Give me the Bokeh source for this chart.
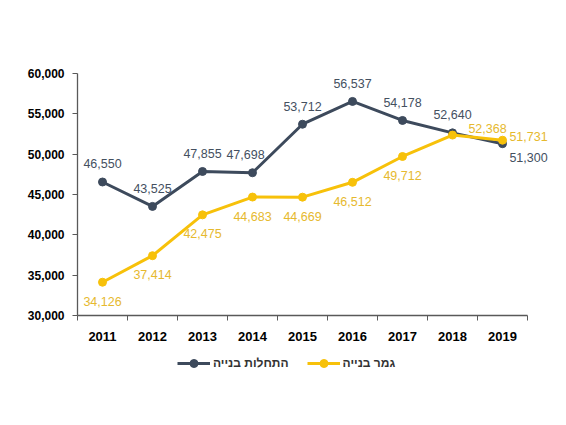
from bokeh.models import ColumnDataSource, FixedTicker, NumeralTickFormatter, Legend, LegendItem, Range1d
from bokeh.plotting import figure
from bokeh.layouts import column
from bokeh.embed import file_html
from bokeh.resources import INLINE
from bokeh.core.properties import value

years = ["2011", "2012", "2013", "2014", "2015", "2016", "2017", "2018", "2019"]
starts = [46550, 43525, 47855, 47698, 53712, 56537, 54178, 52640, 51300]
finished = [34126, 37414, 42475, 44683, 44669, 46512, 49712, 52368, 51731]
starts_name = "התחלות בנייה"
finished_name = "גמר בנייה"

# where each value label sits relative to its point
starts_pos = ["above", "above", "above", "above-left", "above", "above", "above", "above", "below-right"]
finished_pos = ["below"] * 7 + ["above-right", "right"]
offsets = {"above": (0, -18), "above-left": (-7, -18), "below": (0, 19), "right": (26, -4),
           "below-right": (26, 14), "above-right": (35, -7)}

DARK = "#3d4a5c"
GOLD = "#f7c10a"
GOLD_TXT = "#e6b92e"
FONT = "Liberation Sans"

xs = [i + 0.5 for i in range(len(years))]


def make_source(vals, pos):
    return ColumnDataSource(dict(
        x=xs, y=vals,
        label=[f"{v:,}" for v in vals],
        dx=[offsets[p][0] for p in pos],
        dy=[offsets[p][1] for p in pos],
    ))


src_s = make_source(starts, starts_pos)
src_f = make_source(finished, finished_pos)

# frame runs a bit past the last category so the right-hand labels are not clipped
p = figure(width=564, height=345, output_backend="svg", toolbar_location=None,
           x_range=Range1d(0, len(years) + 0.7), y_range=Range1d(30000, 60000),
           min_border_left=77, min_border_right=2, min_border_top=73, min_border_bottom=30)
p.outline_line_color = None
p.xgrid.grid_line_color = None
p.ygrid.grid_line_color = None
p.background_fill_color = "white"

p.line("x", "y", source=src_s, line_color=DARK, line_width=3)
p.scatter("x", "y", source=src_s, size=8, fill_color=DARK, line_color=DARK)
p.line("x", "y", source=src_f, line_color=GOLD, line_width=3)
p.scatter("x", "y", source=src_f, size=8, fill_color=GOLD, line_color=GOLD)

p.text("x", "y", text="label", source=src_s, x_offset="dx", y_offset="dy",
       text_align="center", text_baseline="middle", text_font=value(FONT),
       text_font_size="12.5px", text_color="#44505f")
p.text("x", "y", text="label", source=src_f, x_offset="dx", y_offset="dy",
       text_align="center", text_baseline="middle", text_font=value(FONT),
       text_font_size="12.5px", text_color=GOLD_TXT)

# x axis: labels at centres, tick marks at category boundaries
p.xaxis.bounds = (0, len(years))
p.xaxis.ticker = FixedTicker(ticks=xs, minor_ticks=list(range(len(years) + 1)))
p.xaxis.major_label_overrides = {x: y for x, y in zip(xs, years)}
p.xaxis.major_tick_line_color = None
p.xaxis.minor_tick_out = 5
p.xaxis.minor_tick_in = 0
p.xaxis.minor_tick_line_color = "#595959"
p.xaxis.major_label_standoff = 10
p.xaxis.major_label_text_font_size = "13px"
p.xaxis.major_label_text_font_style = "bold"

p.yaxis.ticker = FixedTicker(ticks=list(range(30000, 60001, 5000)))
p.yaxis.formatter = NumeralTickFormatter(format="0,0")
p.yaxis.major_tick_out = 5
p.yaxis.major_tick_in = 0
p.yaxis.major_tick_line_color = "#595959"
p.yaxis.minor_tick_line_color = None
p.yaxis.major_label_standoff = 8
p.yaxis.major_label_text_font_size = "12px"
p.yaxis.major_label_text_font_style = "bold"

for ax in (p.xaxis, p.yaxis):
    ax.axis_line_color = "#595959"
    ax.axis_line_width = 1.3
    ax.major_label_text_color = "black"
    ax.major_label_text_font = FONT

# legend lives in its own strip under the chart (frame is aligned with the chart's)
lg = figure(width=564, height=45, output_backend="svg", toolbar_location=None,
            x_axis_type=None, y_axis_type=None, min_border=0,
            x_range=Range1d(0, 1), y_range=Range1d(0, 1))
lg.outline_line_color = None
lg.xgrid.grid_line_color = None
lg.ygrid.grid_line_color = None
# one point off-screen so the legend glyphs get their styles
hidden = ColumnDataSource(dict(x=[-1], y=[-1]))
l_s = [lg.line("x", "y", source=hidden, line_color=DARK, line_width=3),
       lg.scatter("x", "y", source=hidden, size=7, fill_color=DARK, line_color=DARK)]
l_f = [lg.line("x", "y", source=hidden, line_color=GOLD, line_width=3),
       lg.scatter("x", "y", source=hidden, size=7, fill_color=GOLD, line_color=GOLD)]

legend = Legend(items=[
    LegendItem(label=starts_name, renderers=l_s),
    LegendItem(label=finished_name, renderers=l_f),
], location=(100, 17), orientation="horizontal")
legend.border_line_color = None
legend.background_fill_alpha = 0
legend.padding = 0
legend.margin = 0
legend.spacing = 18
legend.glyph_width = 33
legend.label_standoff = 3
legend.label_text_font = FONT
legend.label_text_font_size = "12px"
legend.label_text_font_style = "bold"
legend.label_text_color = "#333333"
lg.add_layout(legend, "center")

open("out.html", "w").write(file_html(column(p, lg), INLINE))
